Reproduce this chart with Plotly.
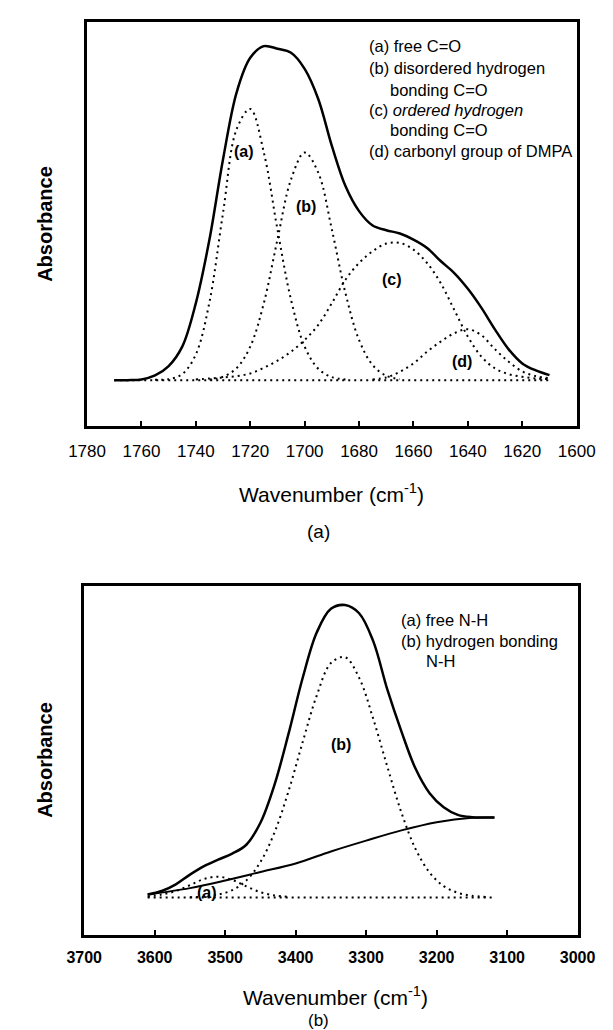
import plotly.graph_objects as go

W, H = 613, 1030

# ---------------- Panel (a): C=O region ----------------
wn_a = [1770, 1765, 1760, 1755, 1750, 1745, 1740, 1735, 1730, 1725, 1720,
        1715, 1710, 1705, 1700, 1695, 1690, 1685, 1680, 1675, 1670, 1665,
        1660, 1655, 1650, 1645, 1640, 1635, 1630, 1625, 1620, 1615, 1610]
env_a = [0.0, 0.0, 0.002, 0.014, 0.042, 0.10, 0.23, 0.42, 0.66, 0.86, 0.963,
         0.998, 0.99, 0.978, 0.93, 0.84, 0.70, 0.58, 0.505, 0.462, 0.448, 0.438,
         0.42, 0.395, 0.356, 0.32, 0.273, 0.216, 0.151, 0.092, 0.05, 0.029, 0.015]

wn_fa = [1755, 1750, 1745, 1740, 1735, 1730, 1725, 1720, 1715, 1710, 1705,
         1700, 1695, 1690, 1685]
free_co = [0.001, 0.003, 0.018, 0.077, 0.233, 0.50, 0.75, 0.81, 0.68, 0.45, 0.24,
           0.10, 0.034, 0.009, 0.002]

wn_fb = [1735, 1730, 1725, 1720, 1715, 1710, 1705, 1700, 1695, 1690, 1685,
         1680, 1675, 1670, 1665]
disordered_co = [0.002, 0.010, 0.036, 0.10, 0.23, 0.42, 0.60, 0.68, 0.62, 0.45, 0.26,
                 0.12, 0.045, 0.013, 0.003]

wn_fc = [1740, 1735, 1730, 1725, 1720, 1715, 1710, 1705, 1700, 1695, 1690,
         1685, 1680, 1675, 1670, 1665, 1660, 1655, 1650, 1645, 1640, 1635,
         1630, 1625, 1620, 1615, 1610]
ordered_co = [0.002, 0.005, 0.008, 0.012, 0.02, 0.037, 0.058, 0.085, 0.12, 0.165, 0.23,
              0.30, 0.35, 0.385, 0.408, 0.41, 0.39, 0.35, 0.29, 0.21, 0.13, 0.07,
              0.035, 0.018, 0.01, 0.005, 0.003]

wn_fd = [1675, 1670, 1665, 1660, 1655, 1650, 1645, 1640, 1635, 1630, 1625,
         1620, 1615, 1610]
dmpa_co = [0.002, 0.008, 0.025, 0.05, 0.085, 0.115, 0.14, 0.152, 0.134, 0.092, 0.055,
           0.026, 0.012, 0.006]

base_a_x = [1770, 1610]
base_a_y = [0.0, 0.0]

ticks_a = [1780, 1760, 1740, 1720, 1700, 1680, 1660, 1640, 1620, 1600]

legend_a = ["(a) free C=O", "(b) disordered hydrogen", "bonding C=O",
            "(c) <i>ordered hydrogen</i>", "bonding C=O", "(d) carbonyl group of DMPA"]
peak_labels_a = ["(a)", "(b)", "(c)", "(d)"]
peak_lab_a_x = [1722.3, 1699.4, 1667.8, 1642.2]
peak_lab_a_y = [0.684, 0.52, 0.30, 0.057]

# ---------------- Panel (b): N-H region ----------------
wn_b = [3610, 3590, 3570, 3550, 3530, 3510, 3490, 3470, 3450, 3430, 3410,
        3390, 3370, 3350, 3330, 3310, 3290, 3270, 3250, 3230, 3210, 3190,
        3170, 3150, 3130, 3118]
env_b = [0.01, 0.022, 0.045, 0.078, 0.107, 0.129, 0.15, 0.18, 0.255, 0.385, 0.56,
         0.75, 0.905, 0.985, 0.998, 0.97, 0.875, 0.71, 0.567, 0.44, 0.356, 0.308,
         0.282, 0.274, 0.273, 0.273]

wn_bl = [3610, 3550, 3500, 3450, 3400, 3350, 3300, 3250, 3200, 3150, 3118]
sloped_base_b = [0.01, 0.032, 0.058, 0.087, 0.116, 0.157, 0.194, 0.229, 0.257, 0.272, 0.273]

wn_na = [3610, 3590, 3570, 3550, 3530, 3510, 3490, 3470, 3450, 3430, 3410]
free_nh = [0.003, 0.01, 0.022, 0.042, 0.063, 0.071, 0.06, 0.038, 0.018, 0.007, 0.002]

wn_nb = [3550, 3530, 3510, 3490, 3470, 3450, 3430, 3410, 3390, 3370, 3350,
         3330, 3310, 3290, 3270, 3250, 3230, 3210, 3190, 3170, 3150, 3130]
hbond_nh = [0.001, 0.003, 0.010, 0.025, 0.058, 0.121, 0.222, 0.364, 0.531, 0.69, 0.80,
            0.82, 0.75, 0.61, 0.447, 0.29, 0.166, 0.085, 0.039, 0.016, 0.006, 0.002]

base_b_x = [3610, 3118]
base_b_y = [0.0, 0.0]

ticks_b = [3700, 3600, 3500, 3400, 3300, 3200, 3100, 3000]

legend_b = ["(a) free N-H", "(b) hydrogen bonding", "N-H"]
peak_labels_b = ["(b)", "(a)"]
peak_lab_b_x = [3335, 3526]
peak_lab_b_y = [0.523, 0.017]

# ---------------- Figure ----------------
FONT = "Arial, Liberation Sans, Helvetica, sans-serif"
solid = dict(color="black", width=2.5, shape="spline")
dotted = dict(color="black", width=2, dash="2px,4px", shape="spline")

fig = go.Figure()

def add(x, y, line, xa, ya):
    fig.add_trace(go.Scatter(x=x, y=y, mode="lines", line=line,
                             xaxis=xa, yaxis=ya, showlegend=False, hoverinfo="skip"))

# panel a
add(base_a_x, base_a_y, dict(color="black", width=2, dash="2px,4px"), "x", "y")
add(wn_fa, free_co, dotted, "x", "y")
add(wn_fb, disordered_co, dotted, "x", "y")
add(wn_fc, ordered_co, dotted, "x", "y")
add(wn_fd, dmpa_co, dotted, "x", "y")
add(wn_a, env_a, solid, "x", "y")

# panel b
add(base_b_x, base_b_y, dict(color="black", width=2, dash="2px,4px"), "x2", "y2")
add(wn_na, free_nh, dotted, "x2", "y2")
add(wn_nb, hbond_nh, dotted, "x2", "y2")
add(wn_bl, sloped_base_b, dict(color="black", width=2, shape="spline"), "x2", "y2")
add(wn_b, env_b, solid, "x2", "y2")

def px(xp):
    return xp / W

def py(yp):
    return 1 - yp / H

axis_common = dict(showgrid=False, zeroline=False, showline=True, linewidth=3,
                   linecolor="black", mirror=True)

fig.update_layout(
    width=W, height=H, margin=dict(l=0, r=0, t=0, b=0),
    paper_bgcolor="white", plot_bgcolor="white",
    font=dict(family=FONT, color="black"),
    xaxis=dict(domain=[px(64), px(586)], range=[1780, 1600], anchor="y",
               tickvals=ticks_a, ticktext=[str(t) for t in ticks_a],
               ticks="inside", ticklen=5, tickwidth=2, tickcolor="black",
               tickfont=dict(size=17, family=FONT, color="black"),
               ticklabelstandoff=8, **axis_common),
    yaxis=dict(domain=[py(418), py(14)], range=[-0.137, 1.07], anchor="x",
               showticklabels=False, ticks="", **axis_common),
    xaxis2=dict(domain=[px(61), px(587)], range=[3700, 3000], anchor="y2",
                tickvals=ticks_b, ticktext=["<b>%d</b>" % t for t in ticks_b],
                ticks="inside", ticklen=5, tickwidth=2, tickcolor="black",
                tickfont=dict(size=16, family=FONT, color="black"),
                ticklabelstandoff=6, **axis_common),
    yaxis2=dict(domain=[py(927), py(578)], range=[-0.128, 1.063], anchor="x2",
                showticklabels=False, ticks="", **axis_common),
)

ann = []
def text(xp, yp, t, size, xanchor="center", angle=0):
    ann.append(dict(x=px(xp), y=py(yp), xref="paper", yref="paper", text=t,
                    showarrow=False, xanchor=xanchor, yanchor="middle",
                    textangle=angle, font=dict(size=size, family=FONT, color="black")))

# axis titles and captions
text(325, 485, "Wavenumber (cm<sup>-1</sup>)", 21)
text(311, 523, "(a)", 19)
text(19, 216, "<b>Absorbance</b>", 20, angle=-90)

text(329, 988, "Wavenumber (cm<sup>-1</sup>)", 21)
text(311, 1012, "(b)", 17)
text(19, 752, "<b>Absorbance</b>", 20, angle=-90)

# legends
leg_a_y = [38, 60, 82, 102, 122, 143]
leg_a_x = [362, 362, 385, 362, 385, 362]
for t, xx, yy in zip(legend_a, leg_a_x, leg_a_y):
    text(xx, yy, t, 16.5, xanchor="left")

leg_b_y = [612, 633, 653]
leg_b_x = [397, 397, 423]
for t, xx, yy in zip(legend_b, leg_b_x, leg_b_y):
    text(xx, yy, t, 16.5, xanchor="left")

# peak labels
for t, xx, yy in zip(peak_labels_a, peak_lab_a_x, peak_lab_a_y):
    ann.append(dict(x=xx, y=yy, xref="x", yref="y", text="<b>%s</b>" % t, showarrow=False,
                    font=dict(size=16, family=FONT, color="black")))
for t, xx, yy in zip(peak_labels_b, peak_lab_b_x, peak_lab_b_y):
    ann.append(dict(x=xx, y=yy, xref="x2", yref="y2", text="<b>%s</b>" % t, showarrow=False,
                    font=dict(size=16, family=FONT, color="black")))

fig.update_layout(annotations=ann)
fig.write_html("out.html")
